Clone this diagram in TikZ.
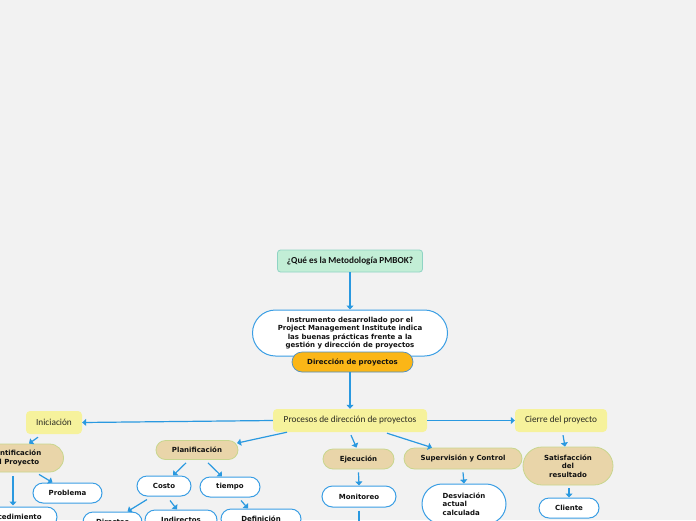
\documentclass[tikz,border=0pt]{standalone}
\usepackage{fontspec}
\setmainfont{DejaVu Sans}
\newfontfamily\carl{Carlito}
\usetikzlibrary{shapes.misc,arrows.meta,calc}
\definecolor{bg}{HTML}{F2F2F2}
\definecolor{nblue}{HTML}{3A9EE4}
\definecolor{ablue}{HTML}{2A99E0}
\definecolor{tanf}{HTML}{E9D5A9}
\definecolor{tanb}{HTML}{C8D68E}
\definecolor{yelf}{HTML}{F6F29C}
\definecolor{grf}{HTML}{C2EED6}
\definecolor{grb}{HTML}{8FD3C4}
\definecolor{orf}{HTML}{FBB617}
\definecolor{orb}{HTML}{4C8FC4}
\definecolor{txt}{HTML}{111111}
\definecolor{ytxt}{HTML}{2A2A22}
\tikzset{
  bfont/.style={font=\bfseries\fontsize{7}{8.4}\selectfont, text=txt},
  wnode/.style={rounded rectangle, draw=nblue, line width=1pt, fill=white, bfont, inner sep=0pt, minimum height=20pt, align=center},
  tnode/.style={rounded rectangle, draw=tanb, line width=0.8pt, fill=tanf, bfont, inner sep=0pt, minimum height=20pt, align=center},
  ynode/.style={rectangle, rounded corners=4pt, fill=yelf, draw=none, font=\carl\fontsize{9.3}{11}\selectfont, text=ytxt, inner sep=0pt, minimum height=23pt},
  arr/.style={draw=ablue, line width=1.2pt, -{Triangle[length=4pt,width=7pt]}},
}
\begin{document}
\begin{tikzpicture}[x=1pt,y=-1pt]
\useasboundingbox (0,0) rectangle (696,520);
\clip (0,0) rectangle (696,520);
\fill[bg] (0,0) rectangle (696,520);

\node[rectangle, rounded corners=3pt, fill=grf, draw=grb, line width=0.8pt, minimum width=145pt, minimum height=22pt, inner sep=0pt, font=\carl\bfseries\fontsize{9.2}{11}\selectfont, text=txt] (quest) at (350,261) {¿Qué es la Metodología PMBOK?};

\node[wnode, minimum width=195pt, minimum height=46pt] (instr) at (350,333) {Instrumento desarrollado por el\\Project Management Institute indica\\las buenas prácticas frente a la\\gestión y dirección de proyectos};

\node[rounded rectangle, fill=orf, draw=orb, line width=0.7pt, bfont, minimum width=121pt, minimum height=20pt, inner sep=0pt] (dir) at (352.5,362) {Dirección de proyectos};

\node[ynode, minimum width=154pt] (proc) at (350,420.5) {Procesos de dirección de proyectos};
\node[ynode, minimum width=56pt] (ini) at (54,422.5) {Iniciación};
\node[ynode, minimum width=92pt] (cierre) at (561,420.5) {Cierre del proyecto};

\node[tnode, minimum width=98pt, minimum height=28pt] (ident) at (14.5,458) {Identificación\\del Proyecto};
\node[wnode, minimum width=69pt] (prob) at (67.5,493) {Problema};
\node[wnode, minimum width=88pt] (proced) at (13,517) {Procedimiento};

\node[tnode, minimum width=82pt, minimum height=19pt] (plan) at (197,450) {Planificación};
\node[wnode, minimum width=54pt] (costo) at (164,486) {Costo};
\node[wnode, minimum width=60pt] (tiempo) at (230,487) {tiempo};
\node[wnode, minimum width=59pt] (directo) at (112.5,522) {Directos};
\node[wnode, minimum width=72pt] (indir) at (181,520) {Indirectos};
\node[wnode, minimum width=80pt] (defin) at (261,519) {Definición};

\node[tnode, minimum width=71pt] (ejec) at (358.5,459) {Ejecución};
\node[wnode, minimum width=74pt, minimum height=21pt] (mon) at (359,496.5) {Monitoreo};
\coordinate (monnext) at (359,532);

\node[tnode, minimum width=118pt, minimum height=21pt] (sup) at (463,458.5) {Supervisión y Control};
\node[wnode, minimum width=84pt, minimum height=40pt, align=left] (desv) at (464,504) {Desviación\\actual\\calculada};

\node[tnode, minimum width=90pt, minimum height=38pt] (satis) at (568,466) {Satisfacción\\del\\resultado};
\node[wnode, minimum width=60pt] (cliente) at (569,508) {Cliente};

\draw[arr] (quest.south) -- (instr.north);
\draw[arr] (proc.north |- dir.south) -- (proc.north);
\draw[arr] (proc.west) -- (ini.east);
\draw[arr] (proc.east) -- (cierre.west);
\draw[arr] ($(proc.south)+(-63,0)$) -- ($(plan.north)+(40,3)$);
\draw[arr] ($(proc.south)+(1,3)$) -- ($(ejec.north)+(-2,-1)$);
\draw[arr] ($(proc.south)+(37,1)$) -- ($(sup.north)+(-31,0)$);
\draw[arr] ($(ini.south)+(-16,3)$) -- ($(ident.north)+(14.5,0)$);
\draw[arr] ($(ident.south)+(24.5,2)$) -- ($(prob.north)+(-15,0)$);
\draw[arr] ($(ident.south)+(-1.5,4)$) -- ($(proced.north)+(0,-1)$);
\draw[arr] ($(plan.south)+(-11,3)$) -- ($(costo.north)+(9,0)$);
\draw[arr] ($(plan.south)+(11,3)$) -- ($(tiempo.north)+(-8,0)$);
\draw[arr] ($(costo.south)+(-17,3)$) -- ($(directo.north)+(15,0)$);
\draw[arr] ($(costo.south)+(6,4)$) -- ($(indir.north)+(-4,0)$);
\draw[arr] ($(tiempo.south)+(11,3)$) -- ($(defin.north)+(-13,0)$);
\draw[arr] ($(ejec.south)+(0,3)$) -- (mon.north);
\draw[arr] ($(mon.south)+(0,3)$) -- (monnext);
\draw[arr] ($(sup.south)+(0,3)$) -- (desv.north);
\draw[arr] ($(cierre.south)+(2,3)$) -- ($(satis.north)+(-3,0)$);
\draw[arr] ($(satis.south)+(1,3)$) -- (cliente.north);
\end{tikzpicture}
\end{document}
